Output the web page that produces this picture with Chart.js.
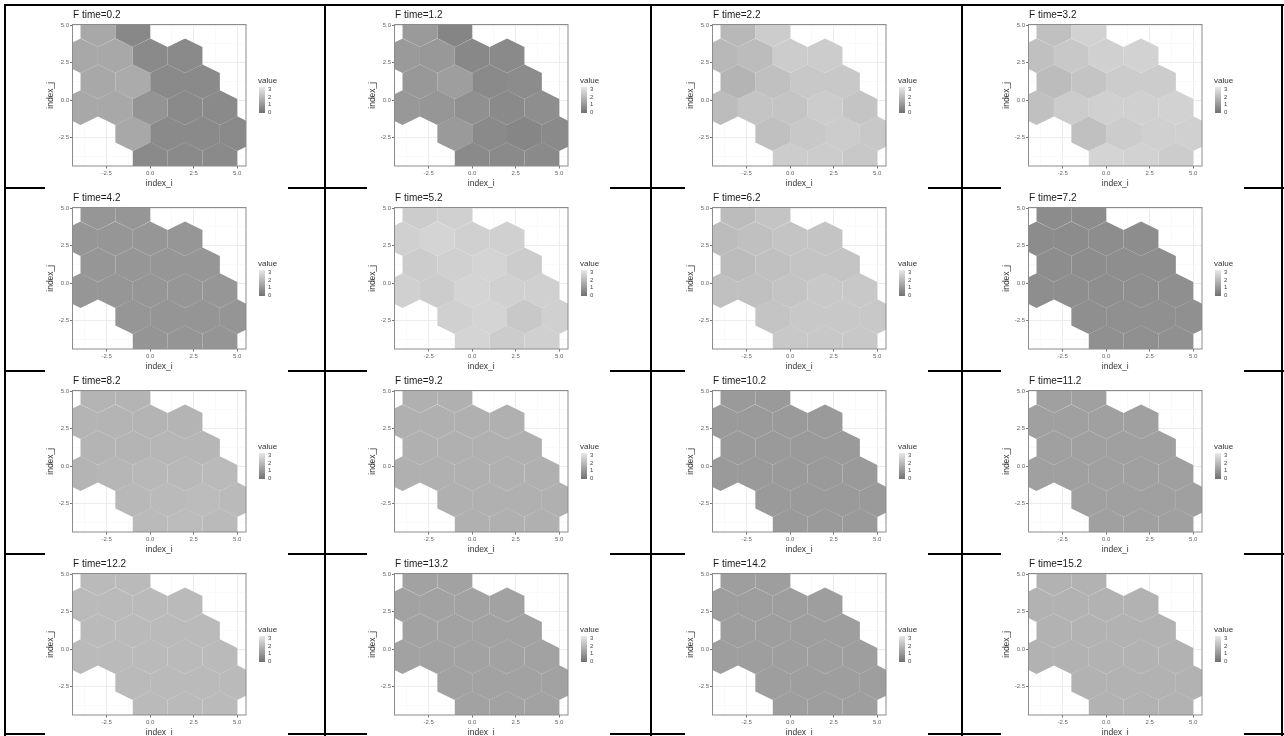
<!DOCTYPE html>
<html><head><meta charset="utf-8">
<script src="https://cdn.jsdelivr.net/npm/chart.js@4.4.1/dist/chart.umd.min.js"></script>
<style>
body{margin:0;background:#fff;width:1284px;height:736px;overflow:hidden;position:relative;font-family:"Liberation Sans",Arial,sans-serif;}
.hl{position:absolute;height:2px;background:#000;}
.vl{position:absolute;width:2px;background:#000;}
.panel{position:absolute;width:243px;height:183px;background:#fff;}
.panel canvas{position:absolute;left:0;top:0;}
.ttl{position:absolute;left:28px;top:3px;font-size:10px;line-height:12px;color:#1a1a1a;white-space:nowrap;}
.lgt{position:absolute;left:213px;top:70px;font-size:8px;color:#333;}
.bar{position:absolute;left:214px;top:81px;width:6px;height:26px;}
.lgl{position:absolute;left:223px;font-size:6px;color:#444;line-height:6px;}
</style></head><body>
<script>
// ---- data ----
const TIMES = ["0.2","1.2","2.2","3.2","4.2","5.2","6.2","7.2","8.2","9.2","10.2","11.2","12.2","13.2","14.2","15.2"];
const HEX_X = [-3,-1, -4,-2,0,2, -3,-1,1,3, -4,-2,0,2,4, -1,1,3,5, 0,2,4];
const HEX_Y = [4.70,4.70, 2.96,2.96,2.96,2.96, 1.23,1.23,1.23,1.23, -0.50,-0.50,-0.50,-0.50,-0.50, -2.23,-2.23,-2.23,-2.23, -3.96,-3.96,-3.96];
const V_T0  = [1.4,0.6, 1.4,1.4,0.65,0.65, 1.4,1.48,0.65,0.65, 1.4,1.4,0.9,0.65,0.65, 1.4,0.65,0.65,0.65, 0.65,0.65,0.65];
const V_T1  = [1.05,0.53, 1.05,1.0,0.6,0.65, 1.0,1.15,0.65,0.7, 1.0,0.95,0.8,0.65,0.75, 1.05,0.65,0.55,0.65, 0.65,0.65,0.65];
const V_T2  = [1.8,2.3, 1.8,1.9,2.3,2.3, 1.7,2.0,2.2,2.2, 1.9,2.1,2.1,2.3,2.1, 2.0,2.2,2.3,2.2, 2.3,2.3,2.2];
const V_T3  = [2.0,2.45, 2.0,2.2,2.4,2.45, 1.9,2.1,2.3,2.3, 2.0,2.3,2.4,2.4,2.45, 2.0,2.3,2.4,2.4, 2.5,2.45,2.3];
const V_T4  = [0.95,0.95, 0.95,0.95,0.95,0.95, 0.95,0.95,0.95,0.95, 0.95,0.95,0.95,0.95,0.95, 0.95,0.93,0.93,0.92, 0.93,0.92,0.92];
const V_T5  = [2.3,2.4, 2.4,2.5,2.4,2.4, 2.3,2.4,2.5,2.3, 2.4,2.3,2.5,2.4,2.4, 2.4,2.5,2.2,2.4, 2.5,2.3,2.4];
const V_T6  = [1.9,2.1, 1.9,2.0,2.1,2.1, 1.9,2.0,2.1,2.1, 2.0,2.0,2.1,2.2,2.2, 2.1,2.2,2.2,2.2, 2.2,2.2,2.2];
const V_T7  = [0.7,0.7, 0.7,0.7,0.72,0.72, 0.72,0.72,0.75,0.75, 0.75,0.75,0.75,0.78,0.78, 0.78,0.8,0.8,0.8, 0.8,0.8,0.8];
const V_T8  = [1.7,1.7, 1.7,1.7,1.7,1.7, 1.7,1.7,1.75,1.75, 1.7,1.75,1.8,1.8,1.85, 1.8,1.85,1.9,1.85, 1.85,1.9,1.85];
const V_T9  = [1.6,1.6, 1.6,1.6,1.6,1.6, 1.6,1.6,1.6,1.6, 1.6,1.6,1.6,1.6,1.6, 1.6,1.6,1.6,1.6, 1.6,1.6,1.6];
const V_T10 = [1.05,1.05, 1.05,1.05,1.05,1.05, 1.05,1.05,1.05,1.05, 1.05,1.05,1.05,1.05,1.05, 1.05,1.05,1.05,1.05, 1.05,1.05,1.05];
const V_T11 = [1.2,1.2, 1.2,1.2,1.2,1.2, 1.2,1.2,1.2,1.2, 1.2,1.2,1.2,1.2,1.2, 1.2,1.2,1.2,1.2, 1.2,1.2,1.2];
const V_T12 = [1.85,1.85, 1.85,1.85,1.85,1.85, 1.85,1.85,1.85,1.85, 1.85,1.85,1.85,1.85,1.85, 1.85,1.85,1.85,1.85, 1.85,1.85,1.85];
const V_T13 = [1.25,1.25, 1.25,1.25,1.25,1.25, 1.25,1.25,1.25,1.25, 1.25,1.25,1.25,1.25,1.25, 1.25,1.25,1.25,1.25, 1.25,1.25,1.25];
const V_T14 = [1.15,1.15, 1.15,1.15,1.15,1.15, 1.15,1.15,1.15,1.15, 1.15,1.15,1.15,1.15,1.15, 1.15,1.15,1.15,1.15, 1.15,1.15,1.15];
const V_T15 = [1.65,1.65, 1.65,1.65,1.65,1.65, 1.65,1.65,1.65,1.65, 1.65,1.65,1.65,1.65,1.65, 1.65,1.65,1.65,1.65, 1.65,1.65,1.65];
const VALUES = [V_T0,V_T1,V_T2,V_T3,V_T4,V_T5,V_T6,V_T7,V_T8,V_T9,V_T10,V_T11,V_T12,V_T13,V_T14,V_T15];
const X_TICKS = [-3.75,-2.5,-1.25,0,1.25,2.5,3.75,5.0];
const Y_TICKS = [-3.75,-2.5,-1.25,0,1.25,2.5,3.75,5.0];
const MAJOR_TICKS = [-2.5,0,2.5,5.0];
const LEGEND_TICKS = [3,2,1,0];

// ---- layout / style ----
const ROW_LINES = [5,188,371,554,734];
const COL_LINES = [5,325,651,962,1282];
const PANEL_LEFT = [45,367,685,1001];
const PANEL_TOP = [6,189,372,555];
const R = 2/Math.sqrt(3);
const XMIN=-4.46, XMAX=5.5, YMIN=-4.38, YMAX=5.04;

function gray(v){ v=Math.max(0,Math.min(3,v)); const g=Math.round(112+40*v); return `rgb(${g},${g},${g})`; }
function hexPoly(cx,cy){ const p=[]; for(let k=0;k<=6;k++){const a=Math.PI/6+k*Math.PI/3; p.push({x:cx+R*Math.cos(a),y:cy+R*Math.sin(a)});} return p; }
const isMajor = v => MAJOR_TICKS.some(m=>Math.abs(m-v)<1e-6);

ROW_LINES.forEach(y=>{const d=document.createElement('div');d.className='hl';d.style.left='4px';d.style.width='1280px';d.style.top=(y-1)+'px';document.body.appendChild(d);});
COL_LINES.forEach(x=>{const d=document.createElement('div');d.className='vl';d.style.left=(x-1)+'px';d.style.top='4px';d.style.height='732px';document.body.appendChild(d);});

const borderPlugin = {id:'pborder', afterDatasetsDraw(c){const a=c.chartArea,ctx=c.ctx;ctx.save();ctx.strokeStyle='#8c8c8c';ctx.lineWidth=1;ctx.strokeRect(a.left,a.top,a.right-a.left,a.bottom-a.top);ctx.restore();}};

function axis(ticks, title, isX){
  return {
    type:'linear', min:isX?XMIN:YMIN, max:isX?XMAX:YMAX,
    afterBuildTicks:s=>{s.ticks=ticks.map(v=>({value:v}));},
    afterFit:s=>{ if(isX) s.height=23; else s.width=27.5; },
    ticks:{autoSkip:false,maxRotation:0,minRotation:0,font:{size:6,family:'"Liberation Sans",Arial'},color:'#666',padding:1,
      callback:v=>isMajor(v)?v.toFixed(1):''},
    grid:{color:c=>isMajor(c.tick.value)?'#ececec':'#f6f6f6', lineWidth:c=>isMajor(c.tick.value)?1:0.6,
      tickLength:2.5, tickColor:c=>isMajor(c.tick.value)?'#777':'rgba(0,0,0,0)'},
    border:{display:false},
    title:{display:true,text:title,color:'#333',font:{size:8.5,family:'"Liberation Sans",Arial'},padding:{top:1,bottom:0}}
  };
}

TIMES.forEach((t,p)=>{
  const r=Math.floor(p/4), c=p%4;
  const div=document.createElement('div'); div.className='panel';
  div.style.left=PANEL_LEFT[c]+'px'; div.style.top=PANEL_TOP[r]+'px';
  const cv=document.createElement('canvas'); cv.width=243; cv.height=183; div.appendChild(cv);
  const ttl=document.createElement('div'); ttl.className='ttl'; ttl.textContent='F time='+t; div.appendChild(ttl);
  const lgt=document.createElement('div'); lgt.className='lgt'; lgt.textContent='value'; div.appendChild(lgt);
  const bar=document.createElement('div'); bar.className='bar';
  bar.style.background=`linear-gradient(to bottom, ${gray(3.1)}, ${gray(1.5)}, ${gray(-0.1)})`; div.appendChild(bar);
  LEGEND_TICKS.forEach(v=>{const l=document.createElement('div');l.className='lgl';l.textContent=String(v);l.style.top=(80+(3-v)*7.6)+'px';div.appendChild(l);});
  document.body.appendChild(div);
  const vals=VALUES[p];
  const datasets=HEX_X.map((cx,i)=>({data:hexPoly(cx,HEX_Y[i]),showLine:true,fill:'shape',backgroundColor:gray(vals[i]),
    borderColor:'rgba(0,0,0,0)',borderWidth:1,pointRadius:0,pointHoverRadius:0,tension:0}));
  new Chart(cv,{type:'scatter',data:{datasets},plugins:[borderPlugin],
    options:{responsive:false,animation:false,devicePixelRatio:1,events:[],
      layout:{padding:{left:0,top:18.5,right:42,bottom:0}},
      plugins:{legend:{display:false},tooltip:{enabled:false},title:{display:false}},
      scales:{x:axis(X_TICKS,'index_i',true),y:axis(Y_TICKS,'index_j',false)}}});
});
</script>
</body></html>
